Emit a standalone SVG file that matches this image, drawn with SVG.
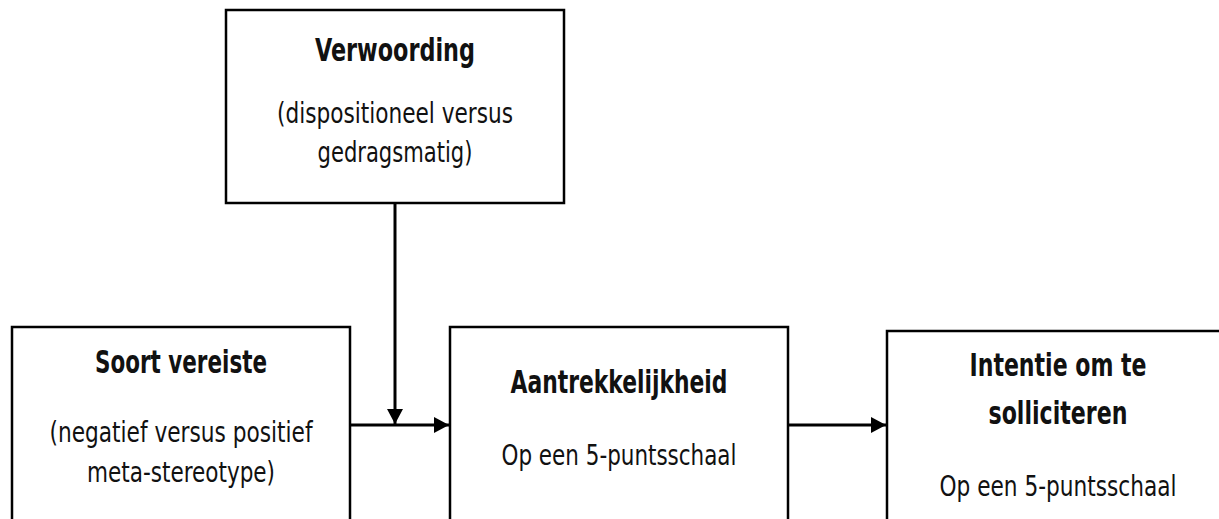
<svg xmlns="http://www.w3.org/2000/svg" width="1219" height="519" viewBox="0 0 1219 519">
<style>
.box{fill:#fff;stroke:#000;stroke-width:2.5}
.t{font-family:"DejaVu Sans Condensed","Liberation Sans",sans-serif;font-weight:bold;font-size:32px;fill:#111;text-anchor:middle}
.b{font-family:"DejaVu Sans Condensed","Liberation Sans",sans-serif;font-size:29px;fill:#111;text-anchor:middle}
.c{fill:none;stroke:#000;stroke-width:3}
</style>
<defs>
<marker id="ah" markerUnits="userSpaceOnUse" markerWidth="16" markerHeight="16" refX="15" refY="8" orient="auto" viewBox="0 0 16 16">
<path d="M0,0 L15,8 L0,16 Z" fill="#000"/>
</marker>
</defs>
<rect width="1219" height="519" fill="#fff"/>
<g id="connectors">
<line class="c" x1="395" y1="203" x2="395" y2="424" marker-end="url(#ah)"/>
<line class="c" x1="350" y1="425" x2="449" y2="425" marker-end="url(#ah)"/>
<line class="c" x1="788" y1="425" x2="886" y2="425" marker-end="url(#ah)"/>
</g>
<g id="verwoording">
<rect class="box" x="226" y="10" width="338" height="193"/>
<text class="t" x="395" y="61" textLength="160" lengthAdjust="spacingAndGlyphs">Verwoording</text>
<text class="b" x="395" y="123" textLength="236" lengthAdjust="spacingAndGlyphs">(dispositioneel versus</text>
<text class="b" x="395" y="162" textLength="155" lengthAdjust="spacingAndGlyphs">gedragsmatig)</text>
</g>
<g id="soort">
<rect class="box" x="12" y="327" width="338" height="210"/>
<text class="t" x="181" y="373" textLength="172" lengthAdjust="spacingAndGlyphs">Soort vereiste</text>
<text class="b" x="181" y="442" textLength="263" lengthAdjust="spacingAndGlyphs">(negatief versus positief</text>
<text class="b" x="181" y="482" textLength="188" lengthAdjust="spacingAndGlyphs">meta-stereotype)</text>
</g>
<g id="aantrekkelijkheid">
<rect class="box" x="450" y="327" width="338" height="210"/>
<text class="t" x="619" y="393" textLength="217" lengthAdjust="spacingAndGlyphs">Aantrekkelijkheid</text>
<text class="b" x="619" y="465" textLength="235" lengthAdjust="spacingAndGlyphs">Op een 5-puntsschaal</text>
</g>
<g id="intentie">
<rect class="box" x="887" y="331" width="342" height="210"/>
<text class="t" x="1058" y="376" textLength="177" lengthAdjust="spacingAndGlyphs">Intentie om te</text>
<text class="t" x="1058" y="424" textLength="139" lengthAdjust="spacingAndGlyphs">solliciteren</text>
<text class="b" x="1058" y="496" textLength="237" lengthAdjust="spacingAndGlyphs">Op een 5-puntsschaal</text>
</g>
</svg>
